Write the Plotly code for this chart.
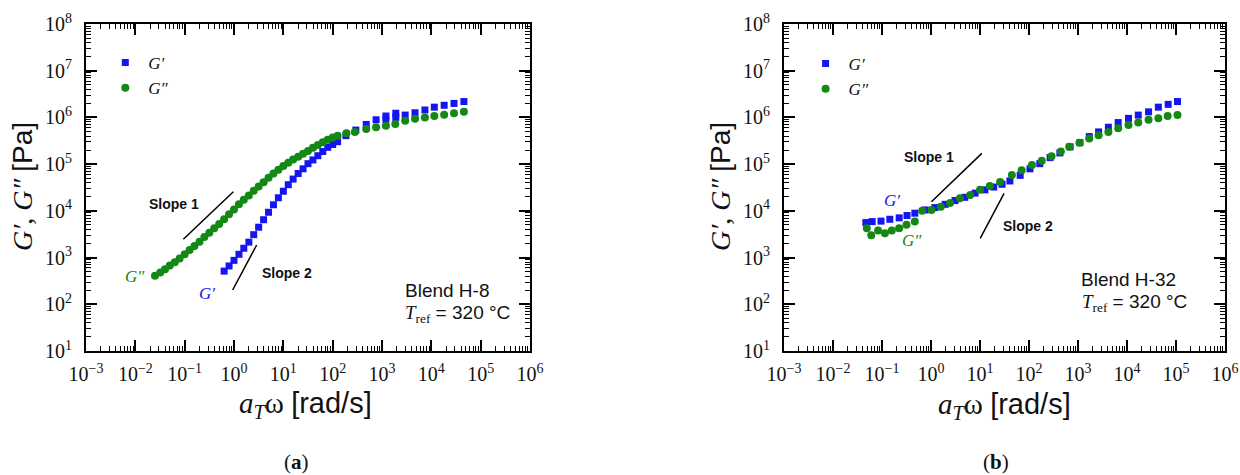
import math
import plotly.graph_objects as go

# ---------------- data ----------------
# Panel (a): Blend H-8
h8_freq_gp = [0.631, 0.794, 1.00, 1.26, 1.58, 2.00, 2.51, 3.16, 3.98, 5.01, 6.31, 7.94,
              10.0, 12.6, 15.8, 20.0, 25.1, 31.6, 39.8, 50.1, 63.1, 79.4, 100, 126,
              186, 295, 479, 759, 1200, 1200, 1905, 1905, 2950, 4670, 7410, 11500,
              18200, 28800, 45700]
h8_gp = [513, 661, 871, 1175, 1585, 2138, 3090, 4467, 6457, 9333, 13490, 19050,
         26300, 36310, 47860, 63100, 79430, 102300, 123000, 151400, 186200, 229100, 263000, 302000,
         407400, 537000, 707900, 891300, 1072000, 912000, 1230000, 1000000, 1122000, 1259000, 1445000, 1660000,
         1820000, 1995000, 2188000]

h8_freq_gpp = [0.025, 0.032, 0.040, 0.050, 0.063, 0.079, 0.100, 0.126, 0.158, 0.200,
               0.251, 0.316, 0.398, 0.501, 0.631, 0.794, 1.00, 1.26, 1.58, 2.00,
               2.51, 3.16, 3.98, 5.01, 6.31, 7.94, 10.0, 12.6, 15.8, 20.0,
               25.1, 31.6, 39.8, 50.1, 63.1, 79.4, 100, 126,
               190, 282, 479, 759, 1200, 1860, 2950, 4670, 7410, 11500, 18200, 28800, 45700]
h8_gpp = [407, 479, 562, 676, 794, 955, 1175, 1445, 1778, 2188,
          2754, 3388, 4266, 5248, 6607, 8511, 10720, 13800, 17380, 21380,
          26920, 33110, 40740, 51290, 63100, 75860, 91200, 107200, 125900, 144500,
          166000, 190500, 223900, 257000, 295100, 331100, 371500, 407400,
          457000, 489800, 562300, 616600, 660700, 724400, 851100, 933300, 1000000,
          1072000, 1148000, 1230000, 1318000]

# Panel (b): Blend H-32
h32_freq_gp = [0.0468, 0.0631, 0.0955, 0.1445, 0.224, 0.324, 0.468, 0.759, 1.202, 1.950,
               3.090, 4.898, 7.943, 12.59, 19.05, 28.18, 40.74, 66.07, 104.7, 166.0,
               269.2, 426.6, 691.8, 1096, 1698, 2630, 4169, 6607, 10720, 16980,
               27540, 43650, 69180, 107200]
h32_gp = [5623, 5888, 6026, 6607, 7079, 7943, 8913, 10470, 11750, 13800,
          16600, 19500, 23990, 28180, 32360, 37150, 43650, 57540, 79430, 102300,
          138000, 173800, 234400, 288400, 389000, 489800, 616600, 776200, 955000, 1122000,
          1318000, 1660000, 1905000, 2188000]

h32_freq_gpp = [0.0490, 0.0603, 0.0832, 0.1148, 0.1585, 0.2239, 0.3162, 0.4677, 0.6607, 1.023,
                1.585, 2.455, 3.890, 6.310, 10.0, 15.85, 25.70, 44.67, 70.79, 114.8,
                182.0, 288.4, 446.7, 660.7, 1072, 1698, 2630, 4169, 6607, 10720,
                16980, 27540, 43650, 67610, 107200]
h32_gpp = [4266, 3020, 3802, 3311, 3802, 4266, 5012, 5888, 10000, 10470,
           12300, 14790, 18620, 21880, 28180, 33880, 41690, 58880, 74130, 95500,
           117500, 147900, 186200, 234400, 288400, 354800, 416900, 489800, 588800, 691800,
           776200, 891300, 955000, 1072000, 1122000]

# slope guide lines (data units)
h8_slope1_x = [0.094, 0.97]
h8_slope1_y = [2460, 25700]
h8_slope2_x = [0.94, 2.88]
h8_slope2_y = [202, 1860]
h32_slope1_x = [1.02, 10.9]
h32_slope1_y = [15700, 170000]
h32_slope2_x = [10.1, 31.0]
h32_slope2_y = [2580, 23700]

# tick labels
x_exponents = [-3, -2, -1, 0, 1, 2, 3, 4, 5, 6]
y_exponents = [1, 2, 3, 4, 5, 6, 7, 8]

# ---------------- figure ----------------
BLUE = "#1515f2"
GREEN = "#148814"
SERIF = "Liberation Serif"
SANS = "Liberation Sans"

fig = go.Figure()


def add_panel(fx1, y1, fx2, y2, s1x, s1y, s2x, s2y, xa, ya, leg):
    fig.add_trace(go.Scatter(x=fx1, y=y1, mode="markers", name="<i>G′</i>",
                             marker=dict(symbol="square", size=7, color=BLUE),
                             xaxis=xa, yaxis=ya, legend=leg))
    fig.add_trace(go.Scatter(x=fx2, y=y2, mode="markers", name="<i>G″</i>",
                             marker=dict(symbol="circle", size=8, color=GREEN),
                             xaxis=xa, yaxis=ya, legend=leg))
    for sx, sy in ((s1x, s1y), (s2x, s2y)):
        fig.add_trace(go.Scatter(x=sx, y=sy, mode="lines", showlegend=False,
                                 line=dict(color="black", width=1.5),
                                 xaxis=xa, yaxis=ya, hoverinfo="skip"))


add_panel(h8_freq_gp, h8_gp, h8_freq_gpp, h8_gpp,
          h8_slope1_x, h8_slope1_y, h8_slope2_x, h8_slope2_y, "x", "y", "legend")
add_panel(h32_freq_gp, h32_gp, h32_freq_gpp, h32_gpp,
          h32_slope1_x, h32_slope1_y, h32_slope2_x, h32_slope2_y, "x2", "y2", "legend2")


def minor_vals(lo, hi):
    return [m * 10 ** e for e in range(lo, hi) for m in range(2, 10)]


def axis_common(exps, rng, standoff):
    return dict(
        type="log", range=rng, showgrid=False, zeroline=False, automargin=False,
        showline=True, linewidth=2, linecolor="black", mirror="allticks",
        ticks="inside", ticklen=11, tickwidth=1.5, tickcolor="black",
        tickmode="array", tickvals=[10 ** e for e in exps],
        ticktext=[("10<sup>%s</sup>" % (("−%d" % -e) if e < 0 else str(e))) for e in exps],
        tickfont=dict(family=SERIF, size=20, color="#111"),
        ticklabelstandoff=standoff,
        minor=dict(tickmode="array", tickvals=minor_vals(exps[0], exps[-1]),
                   ticks="inside", ticklen=5, tickwidth=1, tickcolor="black", showgrid=False),
    )


xd1 = [86 / 1240, 530 / 1240]
xd2 = [784 / 1240, 1225 / 1240]
yd = [124 / 475, 451 / 475]

fig.update_layout(
    template="none",
    width=1240, height=475,
    margin=dict(l=0, r=0, t=0, b=0, autoexpand=False),
    paper_bgcolor="white", plot_bgcolor="white",
    xaxis=dict(domain=xd1, anchor="y", **axis_common(x_exponents, [-3, 6], 4)),
    yaxis=dict(domain=yd, anchor="x", **axis_common(y_exponents, [1, 8], 8)),
    xaxis2=dict(domain=xd2, anchor="y2", **axis_common(x_exponents, [-3, 6], 4)),
    yaxis2=dict(domain=yd, anchor="x2", **axis_common(y_exponents, [1, 8], 8)),
    legend=dict(x=(125.3 - 23) / 1240, y=(475 - 45) / 475, xanchor="left", yanchor="top",
                bgcolor="rgba(0,0,0,0)", borderwidth=0, itemwidth=36,
                font=dict(family=SERIF, size=17, color="#111")),
    legend2=dict(x=(825.6 - 23) / 1240, y=(475 - 46) / 475, xanchor="left", yanchor="top",
                 bgcolor="rgba(0,0,0,0)", borderwidth=0, itemwidth=36,
                 font=dict(family=SERIF, size=17, color="#111")),
    showlegend=True,
)

ann = []


def lab(text, x, y, xref, yref, size, color="#111", family=SANS, xanchor="center", angle=0):
    ann.append(dict(text=text, x=x, y=y, xref=xref, yref=yref, showarrow=False,
                    xanchor=xanchor, yanchor="middle", textangle=angle,
                    font=dict(family=family, size=size, color=color)))


ytitle = ('<i>G′</i>, <i>G″</i> '
          '<span style="font-family:Liberation Sans">[Pa]</span>')
xtitle = ('<i>a</i><sub><i>T</i></sub>ω '
          '<span style="font-family:Liberation Sans">[rad/s]</span>')
tref = ('<span style="font-family:Liberation Serif"><i>T</i><sub>ref</sub></span> = 320 °C')

# panel (a)
lab(ytitle, 23 / 1240, (475 - 187) / 475, "paper", "paper", 28, family=SERIF, angle=-90)
lab(xtitle, 305 / 1240, (475 - 405) / 475, "paper", "paper", 29, family=SERIF)
lab("(<b>a</b>)", 296 / 1240, (475 - 462) / 475, "paper", "paper", 21, family=SERIF)
lab("<b>Slope 1</b>", math.log10(0.0608), math.log10(14000), "x", "y", 14)
lab("<b>Slope 2</b>", math.log10(11.9), math.log10(479), "x", "y", 14)
lab("<i>G″</i>", math.log10(0.00984), math.log10(384), "x", "y", 17, color=GREEN, family=SERIF)
lab("<i>G′</i>", math.log10(0.29), math.log10(174), "x", "y", 17, color=BLUE, family=SERIF)
lab("Blend H-8", 403 / 1240, (475 - 290.7) / 475, "paper", "paper", 19, xanchor="left")
lab(tref, 403 / 1240, (475 - 314) / 475, "paper", "paper", 19, xanchor="left")

# panel (b)
lab(ytitle, 721 / 1240, (475 - 187) / 475, "paper", "paper", 28, family=SERIF, angle=-90)
lab(xtitle, 1004 / 1240, (475 - 406) / 475, "paper", "paper", 29, family=SERIF)
lab("(<b>b</b>)", 996 / 1240, (475 - 462) / 475, "paper", "paper", 21, family=SERIF)
lab("<b>Slope 1</b>", math.log10(0.93), math.log10(140000), "x2", "y2", 14)
lab("<b>Slope 2</b>", math.log10(95.5), math.log10(4810), "x2", "y2", 14)
lab("<i>G′</i>", math.log10(0.158), math.log10(16260), "x2", "y2", 17, color=BLUE, family=SERIF)
lab("<i>G″</i>", math.log10(0.404), math.log10(2377), "x2", "y2", 17, color=GREEN, family=SERIF)
lab("Blend H-32", 1079 / 1240, (475 - 279) / 475, "paper", "paper", 19, xanchor="left")
lab(tref, 1080 / 1240, (475 - 303) / 475, "paper", "paper", 19, xanchor="left")

fig.update_layout(annotations=ann)

# the page body has a default 8px margin; remove it so the figure sits at (0, 0)
fig.write_html("out.html", config={"displayModeBar": False},
               post_script="document.body.style.margin='0';document.body.style.overflow='hidden';")
